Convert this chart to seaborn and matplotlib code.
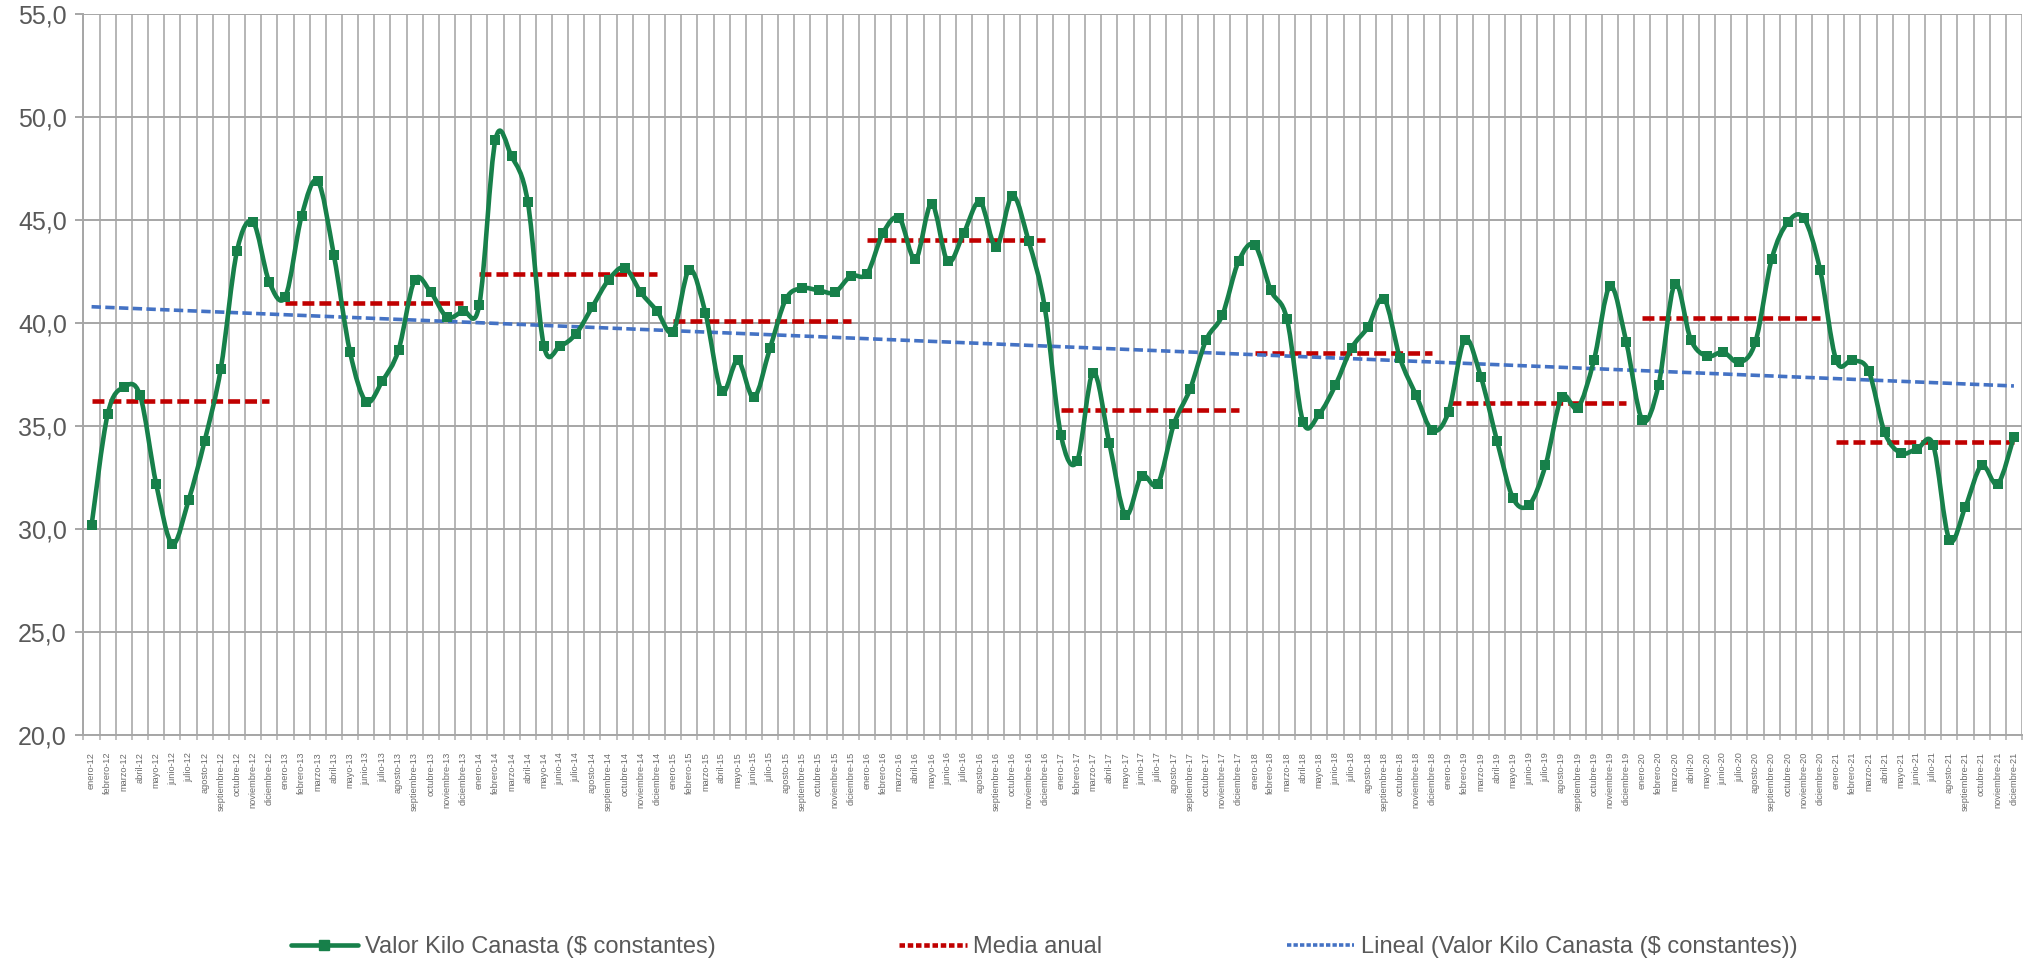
import numpy as np
import pandas as pd
import seaborn as sns
import matplotlib.pyplot as plt
from matplotlib.path import Path
from matplotlib.patches import PathPatch
from matplotlib.lines import Line2D

# monthly values, enero-12 .. diciembre-21
v2012 = [30.2, 35.6, 36.9, 36.5, 32.2, 29.3, 31.4, 34.3, 37.8, 43.5, 44.9, 42.0]
v2013 = [41.3, 45.2, 46.9, 43.3, 38.6, 36.2, 37.2, 38.7, 42.1, 41.5, 40.3, 40.6]
v2014 = [40.9, 48.9, 48.1, 45.9, 38.9, 38.9, 39.5, 40.8, 42.1, 42.7, 41.5, 40.6]
v2015 = [39.6, 42.6, 40.5, 36.7, 38.2, 36.4, 38.8, 41.2, 41.7, 41.6, 41.5, 42.3]
v2016 = [42.4, 44.4, 45.1, 43.1, 45.8, 43.0, 44.4, 45.9, 43.7, 46.2, 44.0, 40.8]
v2017 = [34.6, 33.3, 37.6, 34.2, 30.7, 32.6, 32.2, 35.1, 36.8, 39.2, 40.4, 43.0]
v2018 = [43.8, 41.6, 40.2, 35.2, 35.6, 37.0, 38.8, 39.8, 41.2, 38.3, 36.5, 34.8]
v2019 = [35.7, 39.2, 37.4, 34.3, 31.5, 31.2, 33.1, 36.4, 35.9, 38.2, 41.8, 39.1]
v2020 = [35.3, 37.0, 41.9, 39.2, 38.4, 38.6, 38.1, 39.1, 43.1, 44.9, 45.1, 42.6]
v2021 = [38.2, 38.2, 37.7, 34.7, 33.7, 33.9, 34.1, 29.5, 31.1, 33.1, 32.2, 34.5]

months = ["enero", "febrero", "marzo", "abril", "mayo", "junio", "julio",
          "agosto", "septiembre", "octubre", "noviembre", "diciembre"]
years = [12, 13, 14, 15, 16, 17, 18, 19, 20, 21]

values = v2012 + v2013 + v2014 + v2015 + v2016 + v2017 + v2018 + v2019 + v2020 + v2021
labels = [f"{m}-{y}" for y in years for m in months]

df = pd.DataFrame({"label": labels, "valor": values})
df["idx"] = np.arange(len(df))
df["year"] = np.repeat(years, 12)

GREEN = "#17804a"
RED = "#c00000"
BLUE = "#4472c4"
GRAY = "#595959"

sns.set_theme(style="white")
plt.rcParams["font.family"] = ["Liberation Sans Narrow", "Liberation Sans", "DejaVu Sans"]

fig = plt.figure(figsize=(20.33, 9.63), dpi=100)
ax = fig.add_axes([83.5 / 2033, 1 - 735.3 / 963, (2022 - 83.5) / 2033, (735.3 - 14.3) / 963])

# smoothed line (bezier through the points, like excel smoothing)
x = df["idx"].to_numpy(float)
y = df["valor"].to_numpy(float)
pts = np.column_stack([x, y])
ext = np.vstack([pts[0], pts, pts[-1]])
verts = [pts[0]]
codes = [Path.MOVETO]
for i in range(len(pts) - 1):
    p0, p1, p2, p3 = ext[i], ext[i + 1], ext[i + 2], ext[i + 3]
    c1 = p1 + (p2 - p0) / 6
    c2 = p2 - (p3 - p1) / 6
    verts += [c1, c2, p2]
    codes += [Path.CURVE4] * 3
ax.add_patch(PathPatch(Path(verts, codes), fill=False, edgecolor=GREEN, lw=3.3, zorder=4,
                       capstyle="round", joinstyle="round"))
sns.scatterplot(data=df, x="idx", y="valor", marker="s", s=58, color=GREEN,
                edgecolor=GREEN, linewidth=0, ax=ax, zorder=5, legend=False)

# yearly means
means = df.groupby("year")["valor"].mean()
for yr, m in means.items():
    sub = df[df["year"] == yr]
    ax.plot([sub["idx"].min(), sub["idx"].max()], [m, m], color=RED, lw=3.3,
            dashes=(2.6, 1.1), zorder=3, solid_capstyle="butt", dash_capstyle="butt")

# linear trend
sns.regplot(data=df, x="idx", y="valor", scatter=False, ci=None, truncate=True, ax=ax,
            line_kws=dict(color=BLUE, lw=2.6, dashes=(2.6, 1.2), zorder=3))

ax.set_xlim(-0.5, len(df) - 0.5)
ax.set_ylim(20, 55)
ax.set_yticks(np.arange(20, 56, 5))
ax.set_yticklabels([f"{t:.1f}".replace(".", ",") for t in np.arange(20, 56, 5)])
ax.set_xticks(df["idx"])
ax.set_xticklabels(df["label"], rotation=90, fontsize=6.6, color="#6b6b6b")
ax.set_xticks(np.arange(-0.5, len(df), 1), minor=True)
ax.set_xlabel("")
ax.set_ylabel("")

ax.grid(False)
ax.grid(axis="y", which="major", color="#a6a6a6", lw=1.4)
ax.grid(axis="x", which="minor", color="#b5b5b5", lw=1.4)
ax.tick_params(axis="y", which="major", left=True, length=6, width=1.4, color="#a6a6a6",
               labelsize=18, labelcolor=GRAY, pad=6)
ax.tick_params(axis="x", which="major", bottom=False, pad=6)
ax.tick_params(axis="x", which="minor", bottom=True, length=3.5, width=1.2, color="#b5b5b5")
for side in ["top", "right"]:
    ax.spines[side].set_visible(False)
for side in ["left", "bottom"]:
    ax.spines[side].set_color("#a6a6a6")
    ax.spines[side].set_linewidth(1.4)

handles = [
    Line2D([], [], color=GREEN, lw=3.3, marker="s", markersize=7),
    Line2D([], [], color=RED, lw=3.3, dashes=(1.2, 0.6)),
    Line2D([], [], color=BLUE, lw=2.6, dashes=(1.2, 0.6)),
]
names = ["Valor Kilo Canasta (\\$ constantes)", "Media anual",
         "Lineal (Valor Kilo Canasta (\\$ constantes))"]
fig.legend(handles, names, loc="center", bbox_to_anchor=(0.5135, 1 - 947 / 963), ncol=3,
           frameon=False, fontsize=17, handlelength=2.85, handletextpad=0.28,
           columnspacing=7.8, labelcolor=GRAY)

fig.savefig("out.png", dpi=100)
